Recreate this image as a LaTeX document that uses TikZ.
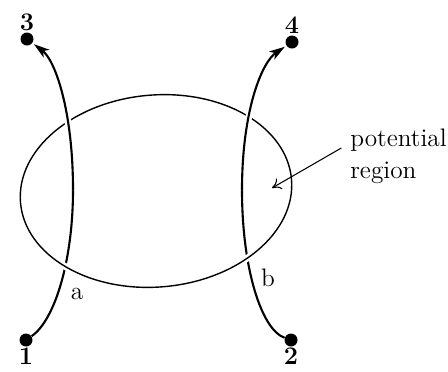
\documentclass[tikz,border=0pt]{standalone}
\usepackage{tikz}
\usetikzlibrary{arrows.meta}
\pgfdeclarelayer{front}
\pgfsetlayers{main,front}

\begin{document}
\begin{tikzpicture}[
  x=0.2mm, y=-0.2mm,
  font=\Large,
  dot/.style={circle, fill, inner sep=0pt, minimum size=2.6mm},
  tag/.style={font=\Large\bfseries, inner sep=0.5pt},
  trackline/.style={line width=1.2pt},
  trackarr/.style={trackline, -{Stealth[length=9pt,width=5.5pt,inset=2.5pt]}, shorten >=1pt},
  halo/.style={preaction={draw=white, line width=3.8pt, -}},
  border/.style={line width=0.8pt},
  pointer/.style={line width=0.6pt, -{To[length=5pt,width=7pt]}, shorten <=2mm}
]
\useasboundingbox (0,0) rectangle (448,371);

\begin{pgfonlayer}{front}
\node[dot, label={[tag]above:3}] (n3) at (27,39) {};
\node[dot, label={[tag]above:4}] (n4) at (292,42) {};
\node[dot, label={[tag]below:1}] (n1) at (26,340) {};
\node[dot, label={[tag]below:2}] (n2) at (291,340) {};
\end{pgfonlayer}

\coordinate (ma) at (73,190);
\coordinate (mb) at (242,190);

\draw[trackline] (n1) .. controls (55,320) and (73,260) .. (ma);
\draw[trackline] (n2) .. controls (262,330) and (242,270) .. (mb);

\draw[border, halo, rotate around={5:(156,191)}] (156,191) ellipse [x radius=136, y radius=96];

\draw[trackarr, halo] (ma) .. controls (73,110) and (55,60) .. (n3);
\draw[trackarr, halo] (mb) .. controls (242,110) and (262,62) .. (n4);

\node (la) at (77,294) {a};
\node (lb) at (268,278) {b};

\node[anchor=west, align=left, inner sep=0pt] (lbl) at (350,156) {potential\\region};
\coordinate (inside) at (272,188);
\draw[pointer] (lbl.165) -- (inside);
\end{tikzpicture}
\end{document}
